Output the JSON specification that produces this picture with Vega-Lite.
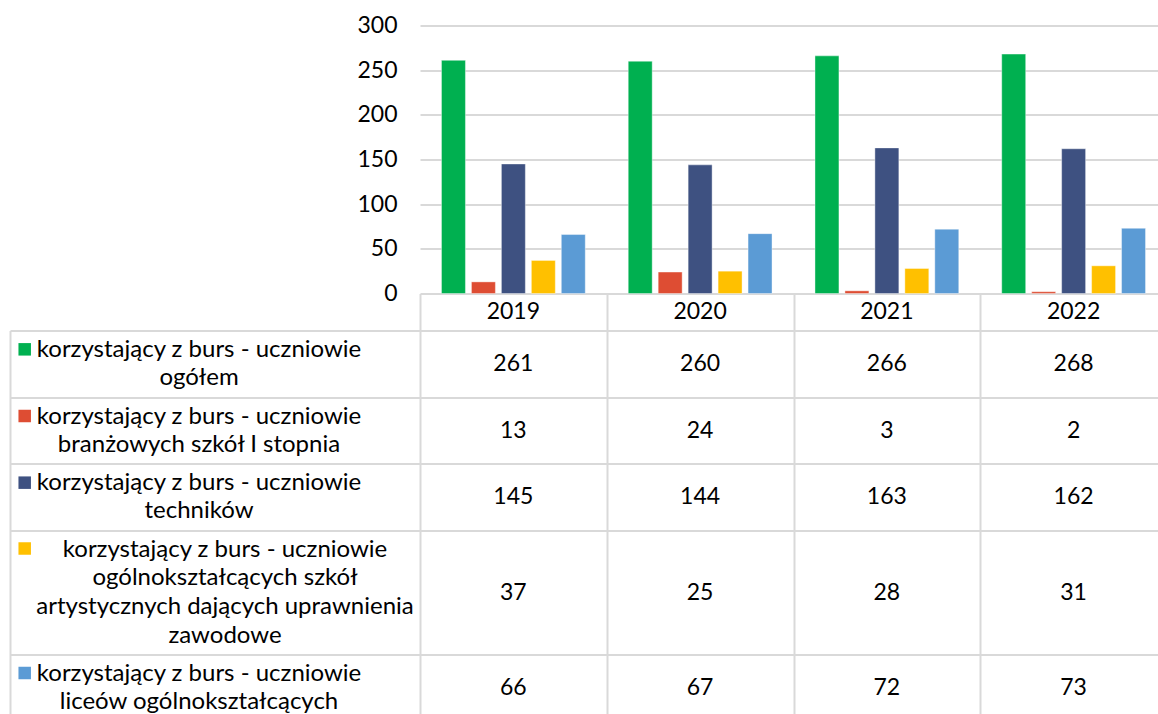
{
  "$schema": "https://vega.github.io/schema/vega-lite/v6.json",
  "padding": {"left": 10, "top": 14.5, "right": 0, "bottom": 0},
  "autosize": {"type": "pad"},
  "background": "white",
  "config": {
    "view": {"stroke": null},
    "font": "Lato",
    "axis": {"gridColor": "#d9d9d9", "gridWidth": 2, "domainColor": "#d9d9d9", "domainWidth": 2}
  },
  "datasets": {
    "t": [
      {"year": "2019", "k": 1, "series": "korzystający z burs - uczniowie\nogółem", "value": 261},
      {"year": "2019", "k": 2, "series": "korzystający z burs - uczniowie\nbranżowych szkół I stopnia", "value": 13},
      {"year": "2019", "k": 3, "series": "korzystający z burs - uczniowie\ntechników", "value": 145},
      {"year": "2019", "k": 4, "series": "korzystający z burs - uczniowie\nogólnokształcących szkół\nartystycznych dających uprawnienia\nzawodowe", "value": 37},
      {"year": "2019", "k": 5, "series": "korzystający z burs - uczniowie\nliceów ogólnokształcących", "value": 66},
      {"year": "2020", "k": 1, "series": "korzystający z burs - uczniowie\nogółem", "value": 260},
      {"year": "2020", "k": 2, "series": "korzystający z burs - uczniowie\nbranżowych szkół I stopnia", "value": 24},
      {"year": "2020", "k": 3, "series": "korzystający z burs - uczniowie\ntechników", "value": 144},
      {"year": "2020", "k": 4, "series": "korzystający z burs - uczniowie\nogólnokształcących szkół\nartystycznych dających uprawnienia\nzawodowe", "value": 25},
      {"year": "2020", "k": 5, "series": "korzystający z burs - uczniowie\nliceów ogólnokształcących", "value": 67},
      {"year": "2021", "k": 1, "series": "korzystający z burs - uczniowie\nogółem", "value": 266},
      {"year": "2021", "k": 2, "series": "korzystający z burs - uczniowie\nbranżowych szkół I stopnia", "value": 3},
      {"year": "2021", "k": 3, "series": "korzystający z burs - uczniowie\ntechników", "value": 163},
      {"year": "2021", "k": 4, "series": "korzystający z burs - uczniowie\nogólnokształcących szkół\nartystycznych dających uprawnienia\nzawodowe", "value": 28},
      {"year": "2021", "k": 5, "series": "korzystający z burs - uczniowie\nliceów ogólnokształcących", "value": 72},
      {"year": "2022", "k": 1, "series": "korzystający z burs - uczniowie\nogółem", "value": 268},
      {"year": "2022", "k": 2, "series": "korzystający z burs - uczniowie\nbranżowych szkół I stopnia", "value": 2},
      {"year": "2022", "k": 3, "series": "korzystający z burs - uczniowie\ntechników", "value": 162},
      {"year": "2022", "k": 4, "series": "korzystający z burs - uczniowie\nogólnokształcących szkół\nartystycznych dających uprawnienia\nzawodowe", "value": 31},
      {"year": "2022", "k": 5, "series": "korzystający z burs - uczniowie\nliceów ogólnokształcących", "value": 73}
    ]
  },
  "columns": 2,
  "align": "each",
  "bounds": "flush",
  "spacing": 0,
  "concat": [
    {
      "width": 410, "height": 268,
      "data": {"values": []},
      "mark": "point"
    },
    {
      "width": 737, "height": 268,
      "data": {"name": "t"},
      "mark": {"type": "bar", "stroke": "#ffffff", "strokeWidth": 0.8, "strokeOpacity": 0.5},
      "encoding": {
        "x": {"field": "year", "type": "nominal", "axis": null, "scale": {"range": [0, 747], "paddingInner": 0, "paddingOuter": 0}},
        "xOffset": {"field": "k", "type": "ordinal", "scale": {"paddingInner": 0.2, "paddingOuter": 0.717}},
        "y": {"field": "value", "type": "quantitative", "scale": {"domain": [0, 300], "nice": false},
              "axis": {"title": null, "values": [0, 50, 100, 150, 200, 250, 300], "grid": true, "domain": false, "ticks": false, "tickSize": 0, "labelPadding": 23, "labelFont": "Lato", "labelFontSize": 23, "labelColor": "#000"}},
        "color": {"field": "k", "type": "ordinal", "scale": {"domain": [1, 2, 3, 4, 5], "range": ["#00B050", "#DE4D33", "#3E5181", "#FFC000", "#5B9BD5"]}, "legend": null}
      }
    },
    {
      "width": 410, "height": 37,
      "data": {"values": []},
      "mark": "point"
    },
    {
      "width": 737, "height": 37,
      "data": {"name": "t"},
      "transform": [{"filter": "datum.k == 1"}],
      "mark": {"type": "text", "font": "Lato", "fontSize": 23, "color": "#000"},
      "encoding": {
        "x": {"field": "year", "type": "nominal", "scale": {"range": [0, 747], "paddingInner": 0, "paddingOuter": 0},
              "axis": {"title": null, "labels": false, "ticks": false, "domain": false, "grid": true, "tickBand": "extent", "values": ["2019", "2020", "2021"]}},
        "text": {"field": "year"}
      }
    },
    {
      "width": 410, "height": 200,
      "data": {"name": "t"},
      "transform": [{"filter": "datum.year == '2019' && datum.k <= 3"}],
      "encoding": {
        "y": {"field": "k", "type": "ordinal", "scale": {"paddingInner": 0, "paddingOuter": 0},
              "axis": {"title": null, "labels": false, "ticks": false, "domain": true, "grid": true, "tickBand": "extent"}}
      },
      "layer": [
        {"mark": {"type": "text", "font": "Lato", "fontSize": 24, "color": "#000", "align": "center", "lineBreak": "\n", "lineHeight": 28, "dx": -16, "dy": -14},
         "encoding": {"text": {"field": "series"}}},
        {"mark": {"type": "point", "shape": "square", "filled": true, "opacity": 1, "size": 156, "xOffset": -190.3, "yOffset": -14.5},
         "encoding": {"color": {"field": "k", "type": "ordinal", "scale": {"domain": [1, 2, 3, 4, 5], "range": ["#00B050", "#DE4D33", "#3E5181", "#FFC000", "#5B9BD5"]}, "legend": null}}}
      ]
    },
    {
      "width": 737, "height": 200,
      "data": {"name": "t"},
      "transform": [{"filter": "datum.k <= 3"}],
      "mark": {"type": "text", "font": "Lato", "fontSize": 23, "color": "#000"},
      "encoding": {
        "x": {"field": "year", "type": "nominal", "scale": {"range": [0, 747], "paddingInner": 0, "paddingOuter": 0},
              "axis": {"title": null, "labels": false, "ticks": false, "domain": false, "grid": true, "tickBand": "extent", "values": ["2019", "2020", "2021"]}},
        "y": {"field": "k", "type": "ordinal", "scale": {"paddingInner": 0, "paddingOuter": 0},
              "axis": {"title": null, "labels": false, "ticks": false, "domain": false, "grid": true, "tickBand": "extent"}},
        "text": {"field": "value", "type": "quantitative"}
      }
    },
    {
      "width": 410, "height": 124,
      "data": {"name": "t"},
      "transform": [{"filter": "datum.year == '2019' && datum.k == 4"}],
      "encoding": {
        "y": {"field": "k", "type": "ordinal", "scale": {"paddingInner": 0, "paddingOuter": 0},
              "axis": {"title": null, "labels": false, "ticks": false, "domain": true, "grid": true, "tickBand": "extent"}}
      },
      "layer": [
        {"mark": {"type": "text", "font": "Lato", "fontSize": 24, "color": "#000", "align": "center", "lineBreak": "\n", "lineHeight": 28.7, "dx": 10, "dy": -43},
         "encoding": {"text": {"field": "series"}}},
        {"mark": {"type": "point", "shape": "square", "filled": true, "opacity": 1, "size": 156, "xOffset": -190.3, "yOffset": -44},
         "encoding": {"color": {"field": "k", "type": "ordinal", "scale": {"domain": [1, 2, 3, 4, 5], "range": ["#00B050", "#DE4D33", "#3E5181", "#FFC000", "#5B9BD5"]}, "legend": null}}}
      ]
    },
    {
      "width": 737, "height": 124,
      "data": {"name": "t"},
      "transform": [{"filter": "datum.k == 4"}],
      "mark": {"type": "text", "font": "Lato", "fontSize": 23, "color": "#000"},
      "encoding": {
        "x": {"field": "year", "type": "nominal", "scale": {"range": [0, 747], "paddingInner": 0, "paddingOuter": 0},
              "axis": {"title": null, "labels": false, "ticks": false, "domain": false, "grid": true, "tickBand": "extent", "values": ["2019", "2020", "2021"]}},
        "y": {"field": "k", "type": "ordinal", "scale": {"paddingInner": 0, "paddingOuter": 0},
              "axis": {"title": null, "labels": false, "ticks": false, "domain": false, "grid": true, "tickBand": "extent"}},
        "text": {"field": "value", "type": "quantitative"}
      }
    },
    {
      "width": 410, "height": 59,
      "data": {"name": "t"},
      "transform": [{"filter": "datum.year == '2019' && datum.k == 5"}],
      "encoding": {
        "y": {"field": "k", "type": "ordinal", "scale": {"paddingInner": 0, "paddingOuter": 0},
              "axis": {"title": null, "labels": false, "ticks": false, "domain": true, "grid": false}}
      },
      "layer": [
        {"mark": {"type": "text", "font": "Lato", "fontSize": 24, "color": "#000", "align": "center", "lineBreak": "\n", "lineHeight": 28, "dx": -16, "dy": -10.5},
         "encoding": {"text": {"field": "series"}}},
        {"mark": {"type": "point", "shape": "square", "filled": true, "opacity": 1, "size": 156, "xOffset": -190.3, "yOffset": -11},
         "encoding": {"color": {"field": "k", "type": "ordinal", "scale": {"domain": [1, 2, 3, 4, 5], "range": ["#00B050", "#DE4D33", "#3E5181", "#FFC000", "#5B9BD5"]}, "legend": null}}}
      ]
    },
    {
      "width": 737, "height": 59,
      "data": {"name": "t"},
      "transform": [{"filter": "datum.k == 5"}],
      "mark": {"type": "text", "font": "Lato", "fontSize": 23, "color": "#000", "dy": 3.5},
      "encoding": {
        "x": {"field": "year", "type": "nominal", "scale": {"range": [0, 747], "paddingInner": 0, "paddingOuter": 0},
              "axis": {"title": null, "labels": false, "ticks": false, "domain": false, "grid": true, "tickBand": "extent", "values": ["2019", "2020", "2021"]}},
        "y": {"field": "k", "type": "ordinal", "scale": {"paddingInner": 0, "paddingOuter": 0}, "axis": null},
        "text": {"field": "value", "type": "quantitative"}
      }
    }
  ]
}
